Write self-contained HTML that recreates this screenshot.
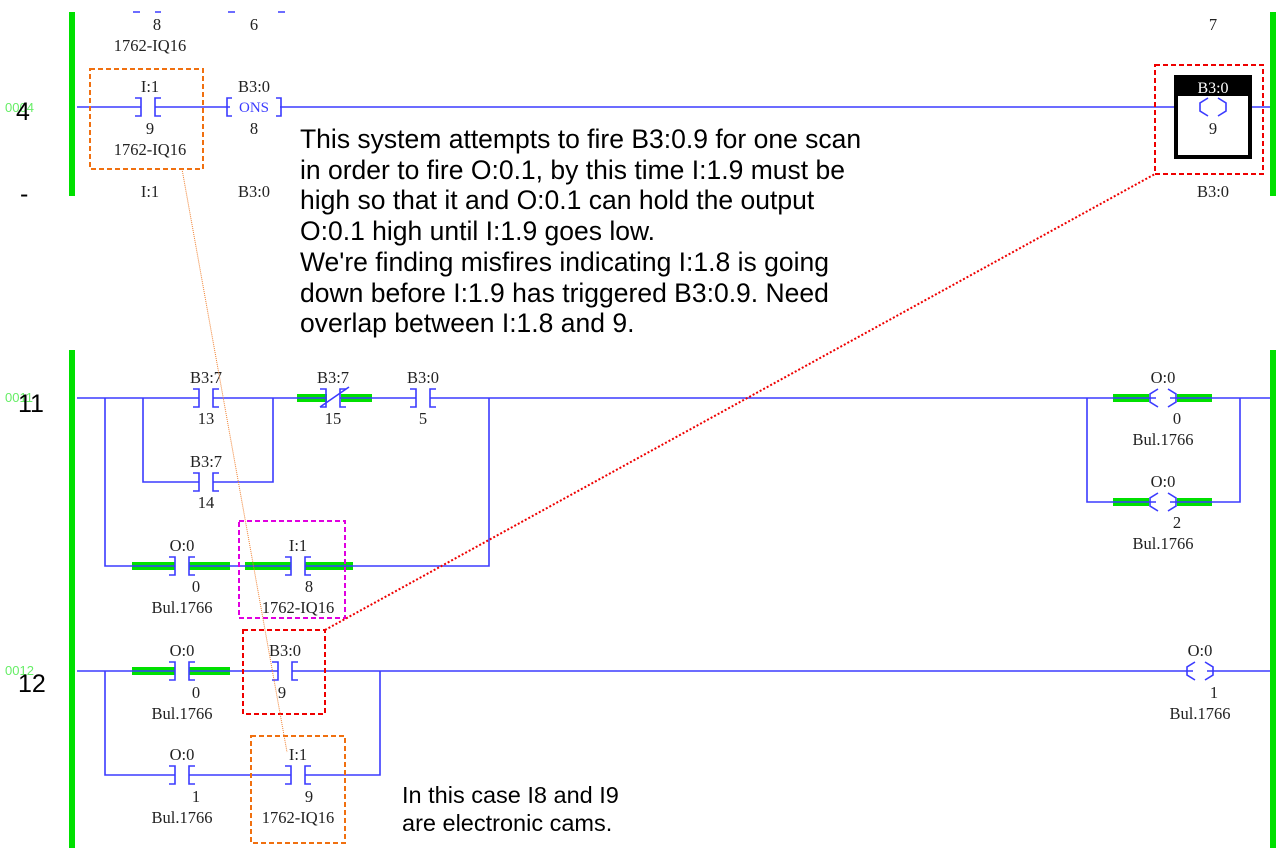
<!DOCTYPE html>
<html><head><meta charset="utf-8"><style>
body{margin:0;background:#fff;width:1287px;height:861px;overflow:hidden}
svg{display:block}
.l{font-family:"Liberation Serif",serif;font-size:16.5px;fill:#222;text-anchor:middle}
.n{font-family:"Liberation Sans",sans-serif;font-size:26.5px;fill:#000}
.w{stroke:#3b3bff;stroke-width:1.6;fill:none}
.g{stroke:#00e000;stroke-width:8}
.r{fill:#00e000}
</style></head><body>
<svg width="1287" height="861" viewBox="0 0 1287 861">
<defs>
<path id="c" class="w" d="M-13,-9H-7V9H-13M13,-9H7V9H13"/>
<path id="o" class="w" d="M-5,-9L-13,-4V4L-5,9M5,-9L13,-4V4L5,9"/>
</defs>
<rect class="r" x="69" y="12" width="6" height="184"/>
<rect class="r" x="1270" y="12" width="6" height="184"/>
<rect class="r" x="69" y="350" width="6" height="498"/>
<rect class="r" x="1270" y="350" width="6" height="498"/>

<g class="w"><path d="M133,12h7M155,12h6M228,12h7M278,12h7"/></g>
<text class="l" x="157" y="30">8</text><text class="l" x="150" y="51">1762-IQ16</text>
<text class="l" x="254" y="30">6</text><text class="l" x="1213" y="30">7</text>
<text x="5" y="112" font-family="Liberation Sans" font-size="13" fill="#66ee66">0004</text>
<text x="16" y="120" font-family="Liberation Sans" font-size="25">4</text>
<text x="20" y="202" font-family="Liberation Sans" font-size="25">-</text>
<path class="w" d="M77,107H141M155,107H230M280,107H1178M1248,107H1270"/>
<use href="#c" x="148" y="107"/>
<text class="l" x="150" y="92">I:1</text><text class="l" x="150" y="134">9</text><text class="l" x="150" y="155">1762-IQ16</text>
<text class="l" x="150" y="197">I:1</text><text class="l" x="254" y="197">B3:0</text>
<path class="w" d="M232,98h-5v18h5M276,98h5v18h-5"/>
<text class="l" x="254" y="92">B3:0</text>
<text x="254" y="112" font-family="Liberation Serif" font-size="15" fill="#3b3bff" text-anchor="middle">ONS</text>
<text class="l" x="254" y="134">8</text>
<rect x="90" y="69" width="113" height="100" fill="none" stroke="#f07010" stroke-width="2" stroke-dasharray="5,3"/>
<rect x="1176" y="77" width="74" height="80" fill="#fff" stroke="#000" stroke-width="4"/>
<rect x="1176" y="77" width="74" height="19" fill="#000"/>
<text x="1213" y="93" font-family="Liberation Serif" font-size="16" fill="#fff" text-anchor="middle">B3:0</text>
<use href="#o" x="1213" y="107"/>
<text class="l" x="1213" y="134">9</text>
<text class="l" x="1213" y="197">B3:0</text>
<rect x="1155" y="65" width="108" height="109" fill="none" stroke="#e00" stroke-width="2" stroke-dasharray="5,3"/>

<text class="n" x="300" y="148">This system attempts to fire B3:0.9 for one scan</text>
<text class="n" x="300" y="179">in order to fire O:0.1, by this time I:1.9 must be</text>
<text class="n" x="300" y="209">high so that it and O:0.1 can hold the output</text>
<text class="n" x="300" y="240">O:0.1 high until I:1.9 goes low.</text>
<text class="n" x="300" y="271">We're finding misfires indicating I:1.8 is going</text>
<text class="n" x="300" y="302">down before I:1.9 has triggered B3:0.9.  Need</text>
<text class="n" x="300" y="332">overlap between I:1.8 and 9.</text>

<text x="5" y="402" font-family="Liberation Sans" font-size="13" fill="#66ee66">0011</text>
<text x="18" y="412" font-family="Liberation Sans" font-size="25">11</text>
<path class="g" d="M297,398h30M341,398h31M132,566h43M189,566h41M245,566h46M305,566h48M1113,398h36M1177,398h35M1113,502h36M1177,502h35"/>
<path class="w" d="M77,398H199M213,398H326M340,398H416M430,398H1156M1170,398H1270M105,398V566H175M189,566H291M305,566H489V398M143,398V482H199M213,482H273V398M1087,398V502H1156M1170,502H1240V398"/>
<use href="#c" x="206" y="398"/><text class="l" x="206" y="383">B3:7</text><text class="l" x="206" y="424">13</text>
<use href="#c" x="333" y="398"/><path class="w" d="M320,407L349,387"/><text class="l" x="333" y="383">B3:7</text><text class="l" x="333" y="424">15</text>
<use href="#c" x="423" y="398"/><text class="l" x="423" y="383">B3:0</text><text class="l" x="423" y="424">5</text>
<use href="#c" x="206" y="482"/><text class="l" x="206" y="467">B3:7</text><text class="l" x="206" y="508">14</text>
<use href="#c" x="182" y="566"/><text class="l" x="182" y="551">O:0</text><text class="l" x="196" y="592">0</text><text class="l" x="182" y="613">Bul.1766</text>
<use href="#c" x="298" y="566"/><text class="l" x="298" y="551">I:1</text><text class="l" x="309" y="592">8</text><text class="l" x="298" y="613">1762-IQ16</text>
<use href="#o" x="1163" y="398"/><text class="l" x="1163" y="383">O:0</text><text class="l" x="1177" y="424">0</text><text class="l" x="1163" y="445">Bul.1766</text>
<use href="#o" x="1163" y="502"/><text class="l" x="1163" y="487">O:0</text><text class="l" x="1177" y="528">2</text><text class="l" x="1163" y="549">Bul.1766</text>
<rect x="239" y="521" width="106" height="97" fill="none" stroke="#e000e0" stroke-width="2" stroke-dasharray="5,3"/>

<text x="5" y="675" font-family="Liberation Sans" font-size="13" fill="#66ee66">0012</text>
<text x="18" y="692" font-family="Liberation Sans" font-size="25">12</text>
<path class="g" d="M132,671h43M189,671h41"/>
<path class="w" d="M77,671H175M189,671H278M292,671H1193M1207,671H1270M105,671V775H175M189,775H291M305,775H380V671"/>
<use href="#c" x="182" y="671"/><text class="l" x="182" y="656">O:0</text><text class="l" x="196" y="698">0</text><text class="l" x="182" y="719">Bul.1766</text>
<use href="#c" x="285" y="671"/><text class="l" x="285" y="656">B3:0</text><text class="l" x="282" y="698">9</text>
<use href="#c" x="182" y="775"/><text class="l" x="182" y="760">O:0</text><text class="l" x="196" y="802">1</text><text class="l" x="182" y="823">Bul.1766</text>
<use href="#c" x="298" y="775"/><text class="l" x="298" y="760">I:1</text><text class="l" x="309" y="802">9</text><text class="l" x="298" y="823">1762-IQ16</text>
<use href="#o" x="1200" y="671"/><text class="l" x="1200" y="656">O:0</text><text class="l" x="1214" y="698">1</text><text class="l" x="1200" y="719">Bul.1766</text>
<rect x="243" y="630" width="82" height="84" fill="none" stroke="#e00" stroke-width="2" stroke-dasharray="5,3"/>
<rect x="251" y="736" width="94" height="107" fill="none" stroke="#f07010" stroke-width="2" stroke-dasharray="5,3"/>
<text x="402" y="803" font-family="Liberation Sans" font-size="23.5">In this case I8 and I9</text>
<text x="402" y="831" font-family="Liberation Sans" font-size="23.5">are electronic cams.</text>

<line x1="182" y1="169" x2="287" y2="752" stroke="#f08030" stroke-width="1" stroke-dasharray="1,1"/>
<line x1="325" y1="630" x2="1155" y2="174" stroke="#e00" stroke-width="2" stroke-dasharray="2,2"/>
</svg>
</body></html>
